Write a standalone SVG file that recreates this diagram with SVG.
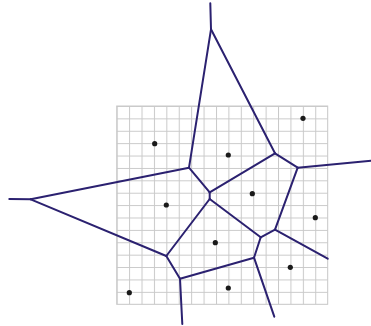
<svg xmlns="http://www.w3.org/2000/svg" width="371" height="326" viewBox="0 0 371 326">
<defs>
<pattern id="grid" x="116.7" y="106" width="12.41" height="12.39" patternUnits="userSpaceOnUse">
<path d="M0 0.5H12.41M0.5 0V12.39" fill="none" stroke="#c9c9c9" stroke-width="1"/>
</pattern>
</defs>
<style>
.edge{fill:none;stroke:#2b2170;stroke-width:2;stroke-linecap:round;stroke-linejoin:round}
.site{fill:#1a1a1a}
</style>
<rect width="371" height="326" fill="#ffffff"/>
<g id="grid-area">
<rect x="116.7" y="106" width="211" height="198.3" fill="url(#grid)"/>
<rect x="116.7" y="106" width="211" height="198.3" fill="none" stroke="#c9c9c9" stroke-width="1"/>
</g>
<g id="connectors">
<path class="edge" d="M210.3 3.3L211 29.3"/>
<path class="edge" d="M211 29.3L189 167.7"/>
<path class="edge" d="M211 29.3L275 153.3"/>
<path class="edge" d="M189 167.7L30.7 199.3"/>
<path class="edge" d="M30.7 199.3L9.3 199"/>
<path class="edge" d="M30.7 199.3L166.3 256"/>
<path class="edge" d="M189 167.7L209.7 192.3"/>
<path class="edge" d="M209.7 192.3L275 153.3"/>
<path class="edge" d="M209.7 192.3L209.7 199"/>
<path class="edge" d="M275 153.3L297.7 167.7"/>
<path class="edge" d="M297.7 167.7L371 160.7"/>
<path class="edge" d="M297.7 167.7L275 229.7"/>
<path class="edge" d="M209.7 199L166.3 256"/>
<path class="edge" d="M209.7 199L260.7 237.3"/>
<path class="edge" d="M166.3 256L180 278.7"/>
<path class="edge" d="M180 278.7L182.3 324"/>
<path class="edge" d="M180 278.7L254 257.7"/>
<path class="edge" d="M254 257.7L260.7 237.3"/>
<path class="edge" d="M254 257.7L274.3 316.7"/>
<path class="edge" d="M260.7 237.3L275 229.7"/>
<path class="edge" d="M275 229.7L327.7 258.7"/>
</g>
<g id="sites">
<circle id="s1" class="site" cx="303" cy="118.3" r="2.6"/>
<circle id="s2" class="site" cx="154.7" cy="143.7" r="2.6"/>
<circle id="s3" class="site" cx="228.3" cy="155" r="2.6"/>
<circle id="s4" class="site" cx="252.3" cy="193.7" r="2.6"/>
<circle id="s5" class="site" cx="166.3" cy="205" r="2.6"/>
<circle id="s6" class="site" cx="315.3" cy="217.7" r="2.6"/>
<circle id="s7" class="site" cx="215.3" cy="242.7" r="2.6"/>
<circle id="s8" class="site" cx="290.3" cy="267.3" r="2.6"/>
<circle id="s9" class="site" cx="129.3" cy="292.7" r="2.6"/>
<circle id="s10" class="site" cx="228.3" cy="288" r="2.6"/>
</g>
</svg>
